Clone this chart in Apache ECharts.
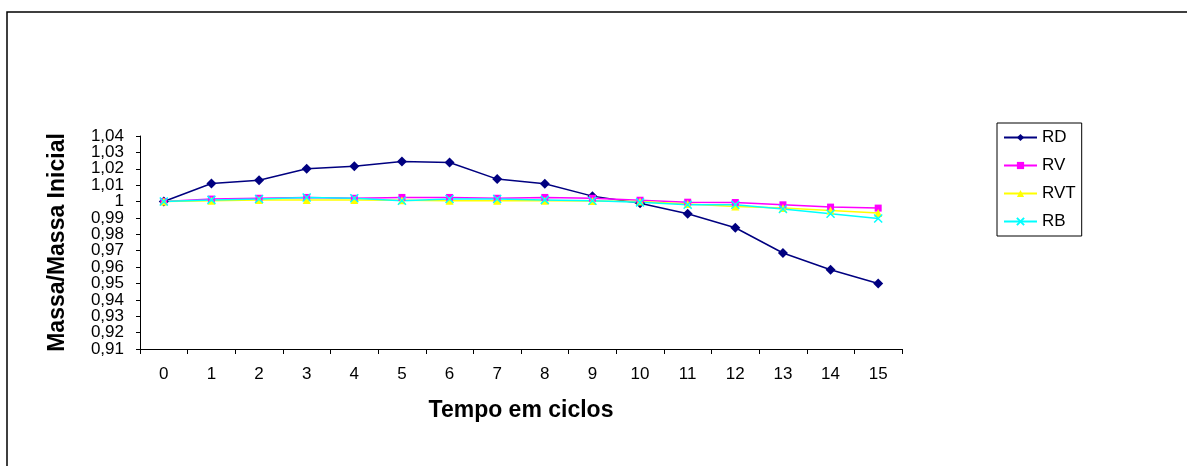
<!DOCTYPE html>
<html>
<head>
<meta charset="utf-8">
<script src="https://cdn.jsdelivr.net/npm/echarts@6/dist/echarts.min.js"></script>
<style>
  html, body { margin: 0; padding: 0; background: #fff; }
  #main { width: 1187px; height: 466px; }
</style>
</head>
<body>
<div id="main"></div>
<script>
const ciclos = ['0', '1', '2', '3', '4', '5', '6', '7', '8', '9', '10', '11', '12', '13', '14', '15'];
const yTicks = ['0,91', '0,92', '0,93', '0,94', '0,95', '0,96', '0,97', '0,98', '0,99', '1', '1,01', '1,02', '1,03', '1,04'];
const rd = [1.000, 1.011, 1.013, 1.020, 1.0215, 1.0245, 1.0238, 1.0137, 1.0108, 1.0033, 0.999, 0.9925, 0.984, 0.9686, 0.9584, 0.950];
const rv = [1.000, 1.0015, 1.002, 1.0025, 1.002, 1.0025, 1.0025, 1.002, 1.0025, 1.002, 1.0008, 0.9996, 0.9994, 0.998, 0.9966, 0.996];
const rvt = [1.000, 1.0005, 1.001, 1.001, 1.001, 1.0008, 1.0005, 1.0005, 1.0005, 1.0003, 1.000, 0.9985, 0.997, 0.996, 0.9945, 0.993];
const rb = [1.000, 1.001, 1.0015, 1.0025, 1.002, 1.0005, 1.0015, 1.0015, 1.001, 1.0005, 0.9995, 0.998, 0.998, 0.9954, 0.9925, 0.9896];

const chart = echarts.init(document.getElementById('main'));
const font = 'Liberation Sans';

// lines + markers, excel style
function serie(name, data, color, symbol, size, extra) {
  return Object.assign({
    name: name,
    type: 'line',
    data: data,
    symbol: symbol,
    symbolSize: size,
    showAllSymbol: true,
    color: color,
    lineStyle: { color: color, width: 1.5 },
    itemStyle: { color: color },
    animation: false
  }, extra || {});
}

const option = {
  backgroundColor: '#fff',
  textStyle: { fontFamily: font },
  graphic: [{
    type: 'rect',
    shape: { x: 7, y: 12, width: 1300, height: 600 },
    style: { fill: 'none', stroke: '#000', lineWidth: 1.5 },
    silent: true
  }],
  grid: { left: 140, right: 285, top: 136, bottom: 117 },
  legend: {
    orient: 'vertical',
    left: 997,
    top: 123,
    padding: [6, 6, 6, 6],
    borderColor: '#000',
    borderWidth: 1,
    itemWidth: 33,
    itemHeight: 9,
    itemGap: 11,
    textStyle: { fontFamily: font, fontSize: 17, color: '#000' },
    data: ['RD', 'RV', 'RVT', 'RB']
  },
  xAxis: {
    type: 'category',
    data: ciclos,
    boundaryGap: true,
    name: 'Tempo em ciclos',
    nameLocation: 'middle',
    nameGap: 50,
    nameTextStyle: { fontFamily: font, fontSize: 23, fontWeight: 'bold', color: '#000' },
    axisLine: { lineStyle: { color: '#000', width: 1 } },
    axisTick: { show: true, interval: 0, length: 5, lineStyle: { color: '#000' } },
    axisLabel: { interval: 0, margin: 17, fontFamily: font, fontSize: 17, color: '#000' },
    splitLine: { show: false }
  },
  yAxis: [{
    type: 'value',
    min: 0.91,
    max: 1.04,
    interval: 0.01,
    name: 'Massa/Massa Inicial',
    nameLocation: 'middle',
    nameGap: 71,
    nameTextStyle: { fontFamily: font, fontSize: 23, fontWeight: 'bold', color: '#000' },
    axisLine: { show: true, lineStyle: { color: '#000', width: 1 } },
    axisTick: { show: true, length: 4, lineStyle: { color: '#000' } },
    axisLabel: { show: false },
    splitLine: { show: false }
  }, {
    // label-only axis so every tick text stays visible
    type: 'category',
    position: 'left',
    data: yTicks,
    boundaryGap: false,
    axisLine: { show: false },
    axisTick: { show: false },
    axisLabel: { interval: 0, margin: 16, fontFamily: font, fontSize: 17, color: '#000' },
    splitLine: { show: false }
  }],
  series: [
    serie('RD', rd, '#000080', 'diamond', 10),
    serie('RV', rv, '#ff00ff', 'rect', 7),
    serie('RVT', rvt, '#ffff00', 'triangle', 8),
    serie('RB', rb, '#00ffff', 'path://M0,0L10,10M10,0L0,10', 8, {
      itemStyle: { color: '#00ffff', borderColor: '#00ffff', borderWidth: 1.5 }
    })
  ]
};

chart.setOption(option);
</script>
</body>
</html>
